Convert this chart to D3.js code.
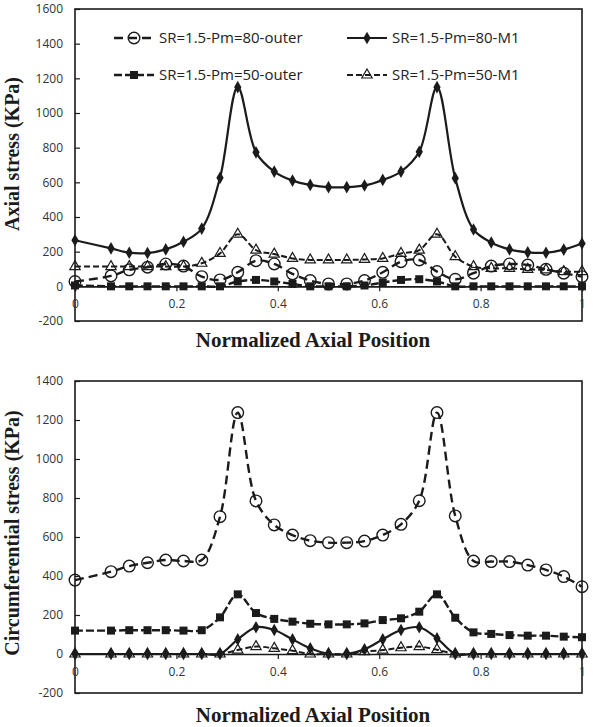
<!DOCTYPE html>
<html><head><meta charset="utf-8">
<script src="https://cdn.jsdelivr.net/npm/d3@7"></script>
<style>body{margin:0;background:#fff}svg{display:block}</style>
</head><body>
<svg id="c" width="593" height="727"></svg>
<script>
// ---------- data ----------
const xPos = [0, 0.071, 0.107, 0.143, 0.179, 0.214, 0.25, 0.286, 0.321, 0.357, 0.393, 0.429, 0.464, 0.5,
  0.536, 0.571, 0.607, 0.643, 0.679, 0.714, 0.75, 0.786, 0.821, 0.857, 0.893, 0.929, 0.964, 1];
const seriesNames = ["SR=1.5-Pm=80-outer", "SR=1.5-Pm=80-M1", "SR=1.5-Pm=50-outer", "SR=1.5-Pm=50-M1"];
// Axial stress (top)
const axialO80 = [28, 60, 95, 110, 129, 117, 56, 37, 81, 148, 129, 72, 33, 14, 14, 33, 81, 142, 152, 85, 41, 76, 117, 129, 123, 98, 76, 56];
const axialM80 = [266, 219, 194, 192, 213, 257, 333, 626, 1149, 773, 662, 610, 585, 572, 572, 582, 614, 662, 776, 1149, 624, 328, 253, 213, 196, 194, 212, 247];
const axialO50 = [5, 0, 0, 0, 0, 0, 0, 0, 28, 37, 28, 14, 0, 0, 0, 5, 22, 37, 41, 28, 0, 0, 0, 0, 0, 0, 0, 0];
const axialM50 = [114, 114, 114, 114, 114, 114, 133, 190, 301, 209, 186, 161, 152, 152, 152, 155, 161, 190, 209, 301, 171, 114, 104, 104, 98, 95, 85, 85];
// Circumferential stress (bottom)
const circO80 = [379, 422, 451, 468, 482, 477, 482, 704, 1238, 785, 662, 610, 581, 571, 571, 579, 610, 665, 786, 1238, 708, 477, 474, 474, 456, 431, 397, 345];
const circM80 = [0, 0, 0, 0, 0, 0, 0, 0, 75, 137, 123, 75, 29, 0, 0, 24, 75, 123, 137, 80, 0, 0, 0, 0, 0, 0, 0, 0];
const circO50 = [120, 120, 122, 122, 122, 120, 122, 188, 306, 210, 180, 166, 155, 152, 152, 157, 174, 183, 217, 306, 186, 111, 103, 97, 94, 94, 89, 86];
const circM50 = [0, 0, 0, 0, 0, 0, 0, 0, 20, 38, 29, 17, 0, 0, 0, 12, 20, 32, 38, 22, 0, 0, 0, 0, 0, 0, 0, 0];
const xTicks = [0, 0.2, 0.4, 0.6, 0.8, 1];
const xTickLabels = ["0", "0.2", "0.4", "0.6", "0.8", "1"];
const axialTicks = [-200, 0, 200, 400, 600, 800, 1000, 1200, 1400, 1600];
const circTicks = [-200, 0, 200, 400, 600, 800, 1000, 1200, 1400];
const xTitle = "Normalized Axial Position";
const axialTitle = "Axial stress (KPa)";
const circTitle = "Circumferential stress (KPa)";

// ---------- styles ----------
const INK = "#1b1b1b";
const styles = [
  {dash: "9,5", width: 2.4, marker: "circle"},
  {dash: null, width: 2.2, marker: "diamond"},
  {dash: "8,3", width: 2.4, marker: "square"},
  {dash: "6,3", width: 2, marker: "triangle"}
];

const svg = d3.select("#c");
const x = d3.scaleLinear().domain([0, 1]).range([75, 582]);

function marker(g, type, cx, cy) {
  if (type === "circle") {
    g.append("circle").attr("cx", cx).attr("cy", cy).attr("r", 5.8)
      .attr("fill", "none").attr("stroke", INK).attr("stroke-width", 1.4);
  } else if (type === "diamond") {
    g.append("path").attr("d", d3.symbol(d3.symbolDiamond, 46)())
      .attr("transform", `translate(${cx},${cy})`).attr("fill", INK);
  } else if (type === "square") {
    g.append("path").attr("d", d3.symbol(d3.symbolSquare, 64)())
      .attr("transform", `translate(${cx},${cy})`).attr("fill", INK);
  } else {
    g.append("path").attr("d", d3.symbol(d3.symbolTriangle, 46)())
      .attr("transform", `translate(${cx},${cy})`).attr("fill", "none")
      .attr("stroke", INK).attr("stroke-width", 1.2);
  }
}

function panel(opts) {
  const {top, bottom, domain, ticks, series, yTitle, yTitleY, xTitleY} = opts;
  const y = d3.scaleLinear().domain(domain).range([bottom, top]);
  const g = svg.append("g");
  // frame
  g.append("rect").attr("x", x(0)).attr("y", top).attr("width", x(1) - x(0)).attr("height", bottom - top)
    .attr("fill", "none").attr("stroke", INK).attr("stroke-width", 1.6);
  // y axis ticks (inside) and labels
  const yAxis = d3.axisLeft(y).tickValues(ticks).tickSize(-5).tickPadding(12).tickFormat(d => String(d));
  const ya = g.append("g").attr("transform", `translate(${x(0)},0)`).call(yAxis);
  ya.select(".domain").remove();
  ya.selectAll("line").attr("stroke", INK).attr("stroke-width", 1.2);
  ya.selectAll("text").attr("font-family", "Open Sans, sans-serif").attr("font-size", 12).attr("fill", "#333");
  // x axis on zero line
  const xAxis = d3.axisBottom(x).tickValues(xTicks).tickSize(5).tickPadding(8)
    .tickFormat((d, i) => xTickLabels[i]);
  const xa = g.append("g").attr("transform", `translate(0,${y(0)})`).call(xAxis);
  xa.select(".domain").attr("stroke", INK).attr("stroke-width", 1.6);
  xa.selectAll("line").attr("stroke", INK).attr("stroke-width", 1.2);
  xa.selectAll("text").attr("font-family", "Open Sans, sans-serif").attr("font-size", 12).attr("fill", "#333");
  // series
  const line = d3.line().x((d, i) => x(xPos[i])).y(d => y(d)).curve(d3.curveCatmullRom.alpha(0.5));
  series.forEach((vals, si) => {
    const st = styles[si];
    const sg = g.append("g");
    sg.append("path").attr("d", line(vals)).attr("fill", "none").attr("stroke", INK)
      .attr("stroke-width", st.width).attr("stroke-dasharray", st.dash);
    vals.forEach((v, i) => marker(sg, st.marker, x(xPos[i]), y(v)));
  });
  // titles
  g.append("text").attr("transform", `translate(19,${yTitleY}) rotate(-90)`).attr("text-anchor", "middle")
    .attr("font-family", "Liberation Serif, Times New Roman, serif").attr("font-weight", "bold")
    .attr("font-size", 20).attr("fill", INK).text(yTitle);
  g.append("text").attr("x", 313).attr("y", xTitleY).attr("text-anchor", "middle")
    .attr("font-family", "Liberation Serif, Times New Roman, serif").attr("font-weight", "bold")
    .attr("font-size", 21).attr("fill", INK).text(xTitle);
  return {g, y};
}

panel({top: 9, bottom: 321, domain: [-200, 1600], ticks: axialTicks,
  series: [axialO80, axialM80, axialO50, axialM50], yTitle: axialTitle, yTitleY: 154, xTitleY: 347});
panel({top: 381, bottom: 693, domain: [-200, 1400], ticks: circTicks,
  series: [circO80, circM80, circO50, circM50], yTitle: circTitle, yTitleY: 533, xTitleY: 722});

// legend
const legPos = [[114, 38], [347, 38], [114, 75], [347, 75]];
const lg = svg.append("g");
seriesNames.forEach((name, i) => {
  const [lx, ly] = legPos[i];
  const st = styles[i];
  lg.append("line").attr("x1", lx).attr("x2", lx + 40).attr("y1", ly).attr("y2", ly)
    .attr("stroke", INK).attr("stroke-width", st.width).attr("stroke-dasharray", st.dash);
  marker(lg, st.marker, lx + 20, ly);
  lg.append("text").attr("x", lx + 45).attr("y", ly).attr("dy", "0.35em")
    .attr("font-family", "Open Sans, sans-serif").attr("font-size", 15).attr("fill", "#222").text(name);
});
</script>
</body></html>
